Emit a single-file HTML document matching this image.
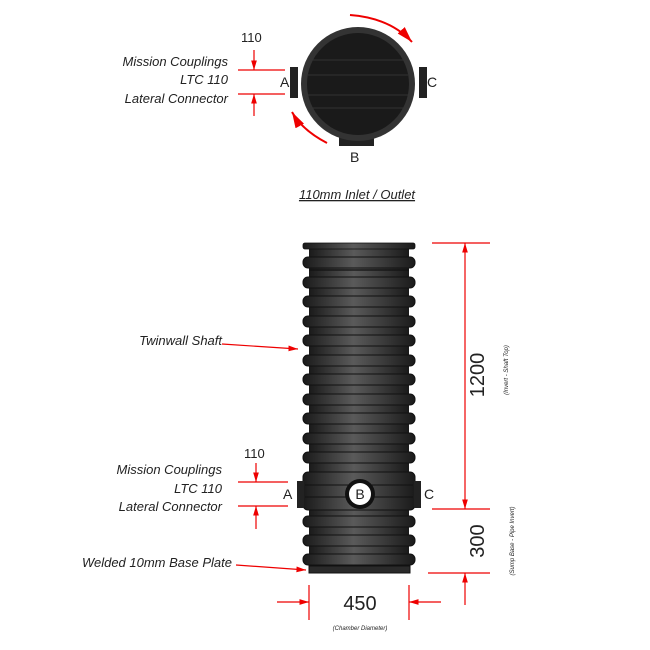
<!DOCTYPE html>
<html><head><style>body{margin:0;background:#fff}svg{display:block}text{font-family:"Liberation Sans",sans-serif}</style></head><body>
<svg width="650" height="650" viewBox="0 0 650 650">
<defs>
<linearGradient id="g" x1="0" x2="1"><stop offset="0" stop-color="#1a1a1a"/><stop offset="0.45" stop-color="#5a5a5a"/><stop offset="1" stop-color="#1a1a1a"/></linearGradient>
<marker id="ar" viewBox="0 0 10 10" refX="10" refY="5" markerWidth="8" markerHeight="8" orient="auto-start-reverse"><path d="M0,2 L10,5 L0,8z" fill="#e00"/></marker>
</defs>
<!-- top view -->
<rect x="290" y="67" width="8" height="31" fill="#222"/>
<rect x="419" y="67" width="8" height="31" fill="#222"/>
<rect x="339" y="130" width="35" height="16" fill="#222"/>
<circle cx="358" cy="84" r="57" fill="#333"/>
<circle cx="358" cy="84" r="51" fill="#1a1a1a"/>
<g stroke="#333" stroke-width="1"><line x1="312" y1="60" x2="404" y2="60"/><line x1="308" y1="75" x2="408" y2="75"/><line x1="308" y1="95" x2="408" y2="95"/><line x1="312" y1="108" x2="404" y2="108"/></g>
<path d="M350,15 Q390,18 412,42" fill="none" stroke="#e00" stroke-width="2" marker-end="url(#ar)"/>
<path d="M327,143 Q302,130 292,112" fill="none" stroke="#e00" stroke-width="2" marker-end="url(#ar)"/>
<text x="280" y="87" font-size="14" fill="#222">A</text>
<text x="427" y="87" font-size="14" fill="#222">C</text>
<text x="350" y="162" font-size="14" fill="#222">B</text>
<text x="241" y="42" font-size="13" fill="#222">110</text>
<g stroke="#e00" stroke-width="1.2"><line x1="238" y1="70" x2="285" y2="70"/><line x1="238" y1="94" x2="285" y2="94"/><line x1="254" y1="50" x2="254" y2="70" marker-end="url(#ar)"/><line x1="254" y1="116" x2="254" y2="94" marker-end="url(#ar)"/></g>
<g font-size="13" font-style="italic" fill="#222" text-anchor="end"><text x="228" y="66">Mission Couplings</text><text x="228" y="84">LTC 110</text><text x="228" y="103">Lateral Connector</text></g>
<text x="357" y="199" font-size="13" font-style="italic" fill="#222" text-anchor="middle" text-decoration="underline">110mm Inlet / Outlet</text>
<!-- shaft -->
<rect x="309" y="246" width="100" height="326" fill="url(#g)"/>
<g stroke="#111" stroke-width="1.2">
<line x1="309" y1="270" x2="409" y2="270"/></g>
<rect x="303" y="243" width="112" height="6" rx="2" fill="url(#g)" stroke="#111" stroke-width="0.8"/>
<g fill="url(#g)" stroke="#111" stroke-width="1">
<rect x="303" y="257" width="112" height="11" rx="5"/>
<rect x="303" y="277" width="112" height="11" rx="5"/>
<rect x="303" y="296" width="112" height="11" rx="5"/>
<rect x="303" y="316" width="112" height="11" rx="5"/>
<rect x="303" y="335" width="112" height="11" rx="5"/>
<rect x="303" y="355" width="112" height="11" rx="5"/>
<rect x="303" y="374" width="112" height="11" rx="5"/>
<rect x="303" y="394" width="112" height="11" rx="5"/>
<rect x="303" y="413" width="112" height="11" rx="5"/>
<rect x="303" y="433" width="112" height="11" rx="5"/>
<rect x="303" y="452" width="112" height="11" rx="5"/>
<rect x="303" y="472" width="112" height="38" rx="5"/>
<rect x="303" y="516" width="112" height="11" rx="5"/>
<rect x="303" y="535" width="112" height="11" rx="5"/>
<rect x="303" y="554" width="112" height="11" rx="5"/>
</g>
<g stroke="#111" stroke-width="1"><line x1="305" y1="485" x2="413" y2="485"/><line x1="305" y1="497" x2="413" y2="497"/></g>
<rect x="309" y="566" width="101" height="7" fill="#2a2a2a" stroke="#111"/>
<rect x="297" y="481" width="7" height="27" fill="#222"/>
<rect x="414" y="481" width="7" height="27" fill="#222"/>
<circle cx="360" cy="494" r="15" fill="#111"/>
<circle cx="360" cy="494" r="11" fill="#fff"/>
<text x="360" y="499" font-size="14" fill="#222" text-anchor="middle">B</text>
<text x="283" y="499" font-size="14" fill="#222">A</text>
<text x="424" y="499" font-size="14" fill="#222">C</text>
<text x="244" y="458" font-size="13" fill="#222">110</text>
<g stroke="#e00" stroke-width="1.2">
<line x1="238" y1="482" x2="288" y2="482"/><line x1="238" y1="506" x2="288" y2="506"/>
<line x1="256" y1="463" x2="256" y2="482" marker-end="url(#ar)"/><line x1="256" y1="529" x2="256" y2="506" marker-end="url(#ar)"/>
<line x1="222" y1="344" x2="298" y2="349" marker-end="url(#ar)"/>
<line x1="236" y1="565" x2="306" y2="570" marker-end="url(#ar)"/>
<line x1="432" y1="243" x2="490" y2="243"/><line x1="432" y1="509" x2="490" y2="509"/><line x1="428" y1="573" x2="490" y2="573"/>
<line x1="465" y1="243" x2="465" y2="509" marker-start="url(#ar)" marker-end="url(#ar)"/>
<line x1="465" y1="605" x2="465" y2="573" marker-end="url(#ar)"/>
<line x1="309" y1="585" x2="309" y2="620"/><line x1="409" y1="585" x2="409" y2="620"/>
<line x1="277" y1="602" x2="309" y2="602" marker-end="url(#ar)"/><line x1="441" y1="602" x2="409" y2="602" marker-end="url(#ar)"/>
</g>
<g font-size="13" font-style="italic" fill="#222" text-anchor="end">
<text x="222" y="345">Twinwall Shaft</text>
<text x="222" y="474">Mission Couplings</text><text x="222" y="493">LTC 110</text><text x="222" y="511">Lateral Connector</text>
<text x="232" y="567">Welded 10mm Base Plate</text></g>
<text x="360" y="610" font-size="20" fill="#222" text-anchor="middle">450</text>
<text x="360" y="630" font-size="6" font-style="italic" fill="#222" text-anchor="middle">(Chamber Diameter)</text>
<text transform="translate(484,375) rotate(-90)" font-size="20" fill="#222" text-anchor="middle">1200</text>
<text transform="translate(484,541) rotate(-90)" font-size="20" fill="#222" text-anchor="middle">300</text>
<text transform="translate(508,370) rotate(-90)" font-size="6" font-style="italic" fill="#222" text-anchor="middle">(Invert - Shaft Top)</text>
<text transform="translate(514,541) rotate(-90)" font-size="6" font-style="italic" fill="#222" text-anchor="middle">(Sump Base - Pipe Invert)</text>
</svg></body></html>
